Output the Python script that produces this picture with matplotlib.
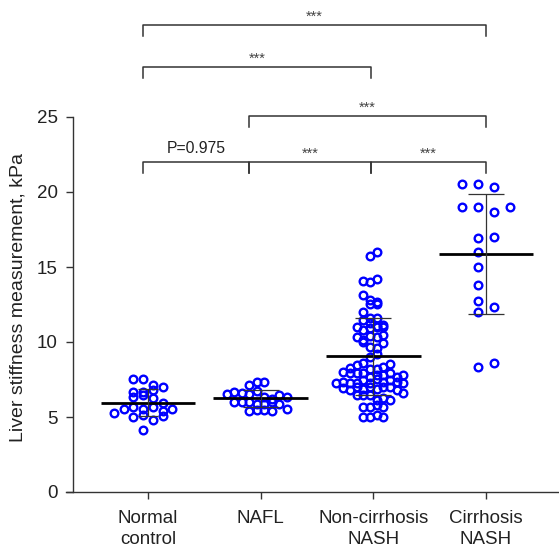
import numpy as np
import matplotlib
matplotlib.use("Agg")
import matplotlib.pyplot as plt

plt.rcParams["font.family"] = ["Liberation Sans", "DejaVu Sans"]

# data (kPa)
group_labels = ["Normal\ncontrol", "NAFL", "Non-cirrhosis\nNASH", "Cirrhosis\nNASH"]

normal_control = [7.53, 7.53, 6.67, 6.67, 6.8, 7.11, 7.02, 6.31, 6.44, 6.25, 5.95,
                  5.24, 5.51, 5.69, 5.51, 5.69, 5.42, 5.51, 5.02, 5.13, 4.8, 5.07, 4.13]

nafl = [7.11, 7.33, 7.33, 6.53, 6.67, 6.6, 6.53, 6.71, 6.31, 6.22, 6.49, 6.31,
        6.0, 6.0, 6.0, 5.87, 5.87, 6.0, 5.87, 5.42, 5.49, 5.49, 5.42, 5.56]

non_cirrhosis_nash = [15.73, 16.0, 14.09, 13.98, 14.22, 13.13, 12.53, 12.8, 12.69, 12.53,
                      12.02, 11.62, 11.47, 11.62, 11.24, 10.98, 10.8, 11.07, 10.91, 10.98,
                      10.98, 11.13, 10.31, 10.13, 10.4, 10.31, 10.47, 10.02, 9.69, 9.58,
                      9.91, 8.98, 9.2,
                      8.24, 8.47, 8.62, 8.18, 8.18, 8.36, 8.02, 8.51,
                      7.91, 7.96, 7.91, 7.69, 7.8, 7.8, 7.91, 7.69, 7.8,
                      7.29, 7.36, 7.24, 7.29, 7.47, 7.24, 7.51, 7.36, 7.47, 7.36, 7.24,
                      6.91, 6.8, 7.02, 6.84, 6.98, 6.84, 7.02, 6.98, 6.8,
                      6.47, 6.47, 6.58, 6.47,
                      6.13, 6.24, 6.13,
                      5.64, 5.69, 5.8, 5.64,
                      4.98, 4.98, 5.13, 4.98]

cirrhosis_nash = [20.53, 20.53, 20.36, 19.02, 19.02, 18.69, 19.02, 16.91, 17.02, 16.02,
                  15.02, 13.8, 12.76, 11.98, 12.31, 8.31, 8.62]

group_means = [5.95, 6.25, 9.05, 15.87]
group_sds = [0.9, 0.58, 2.58, 4.0]

# pairwise comparisons: (group a, group b, label)
comparisons = [(0, 1, "P=0.975"), (1, 2, "***"), (2, 3, "***"),
               (1, 3, "***"), (0, 2, "***"), (0, 3, "***")]
bracket_levels = [22.0, 22.0, 22.0, 25.07, 28.33, 31.13]
bracket_x = [0.96, 1.895, 2.98, 4.0]

# layout
PX_PER_X = 112.67
PX_PER_Y = 15.0
row_heights = [0.5, 0.5, 0.45, 0.5]
spread_px = [9.7, 7.5, 6.7, 16.0]
cap_pt = [7.2, 13.3, 13.3, 13.3]

BLUE = "#0000ff"
DARK = "#333333"


def swarm_offsets(values, step_px, row_h):
    values = np.asarray(values)
    order = np.argsort(-values, kind="stable")
    rows = [[order[0]]]
    for k in order[1:]:
        if values[rows[-1][0]] - values[k] <= row_h:
            rows[-1].append(k)
        else:
            rows.append([k])
    offsets = np.zeros(len(values))
    for row in rows:
        row = sorted(row)
        n = len(row)
        shift = -0.5 if n % 2 else 0.0
        for i, k in enumerate(row):
            offsets[k] = (i - (n - 1) / 2 + shift) * step_px / PX_PER_X
    return offsets


fig = plt.figure(figsize=(5.59, 5.53), dpi=100)
ax = fig.add_axes([73 / 559, 61 / 553, 486 / 559, 492 / 553])
xlo, xhi = 1 - 75 / PX_PER_X, 4 + 73 / PX_PER_X
ax.set_xlim(xlo, xhi)
ax.set_ylim(0, 492 / PX_PER_Y)

all_groups = [normal_control, nafl, non_cirrhosis_nash, cirrhosis_nash]
for i, vals in enumerate(all_groups):
    c = i + 1
    xs = c + swarm_offsets(vals, spread_px[i], row_heights[i])
    ax.plot(xs, vals, "o", ls="none", mfc="none", mec=BLUE, mew=1.7, ms=5.5, zorder=2)
    ax.hlines(group_means[i], c - 0.42, c + 0.42, color="black", lw=2.0, zorder=3)
    ax.errorbar(c, group_means[i], yerr=group_sds[i], fmt="none", ecolor=DARK,
                elinewidth=0.9, capsize=cap_pt[i], capthick=0.9, zorder=3)

for (a, b, label), y in zip(comparisons, bracket_levels):
    x0, x1 = bracket_x[a], bracket_x[b]
    ax.plot([x0, x0, x1, x1], [y - 0.75, y, y, y - 0.75], color=DARK, lw=1.1,
            clip_on=False, zorder=1)
    if label.startswith("P"):
        ax.text((x0 + x1) / 2, y + 0.63, label, ha="center", va="baseline",
                fontsize=11.3, color="#222222")
    else:
        ax.text((x0 + x1) / 2, y + 0.31, label, ha="center", va="baseline",
                fontsize=10.5, color="#444444")

ax.set_xticks(range(1, 5))
ax.set_xticklabels(group_labels, linespacing=1.3)
ax.set_yticks(range(0, 30, 5))

for s in ["top", "right"]:
    ax.spines[s].set_visible(False)
ax.spines["left"].set_bounds(0, 25)
ax.spines["bottom"].set_bounds(xlo - 7 / PX_PER_X, xhi)
for s in ["left", "bottom"]:
    ax.spines[s].set_color(DARK)
    ax.spines[s].set_linewidth(1.0)

ax.tick_params(direction="out", length=5, width=1, colors=DARK,
               labelsize=13.5, labelcolor="#222222")
ax.tick_params(axis="x", pad=8)
ax.tick_params(axis="y", pad=6)

ax.set_ylabel("Liver stiffness measurement, kPa", fontsize=14, color="#222222")
ax.yaxis.set_label_coords(-0.095, 0.395)

fig.savefig("out.png", dpi=100)
